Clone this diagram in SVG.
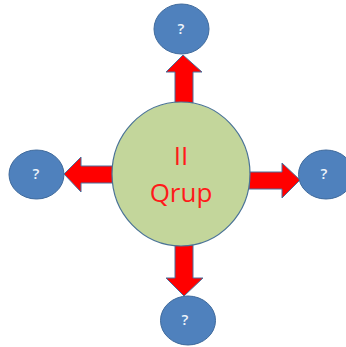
<svg xmlns="http://www.w3.org/2000/svg" width="346" height="347" viewBox="0 0 346 347">
<style>
.arrow{fill:#ff0000;stroke:#4a6f9c;stroke-width:1}
.small{fill:#4f81bd;stroke:#3f6a9c;stroke-width:1}
.big{fill:#c3d69b;stroke:#4a7396;stroke-width:1.2}
.q{font-family:"Open Sans","Liberation Sans",sans-serif;font-size:15px;font-weight:600;fill:#eef4fb;text-anchor:middle}
.t{font-family:"Open Sans","Liberation Sans",sans-serif;font-size:26px;fill:#ff1a1a;text-anchor:middle}
</style>
<rect width="346" height="347" fill="#ffffff"/>
<g id="connectors">
<polygon class="arrow" points="175,103 175,72 166,72 183,55 202,72 193,72 193,103"/>
<polygon class="arrow" points="175,245 175,278 166,278 184,296 203,278 193,278 193,245"/>
<polygon class="arrow" points="113,166 81,166 81,157 64,174 81,192 81,183 113,183"/>
<polygon class="arrow" points="249,172 282,172 282,163 300,180 282,198 282,189 249,189"/>
</g>
<g id="center"><ellipse class="big" cx="181" cy="174" rx="69" ry="72"/>
<text class="t" x="181" y="165">II</text><text class="t" x="181" y="202">Qrup</text></g>
<g id="node-top"><ellipse class="small" cx="181.500" cy="29" rx="27.500" ry="25"/><text class="q" x="181" y="34">?</text></g>
<g id="node-left"><ellipse class="small" cx="36.500" cy="174.500" rx="27.500" ry="24.500"/><text class="q" x="36" y="179">?</text></g>
<g id="node-right"><ellipse class="small" cx="326" cy="174.500" rx="27.500" ry="24.500"/><text class="q" x="324" y="179">?</text></g>
<g id="node-bottom"><ellipse class="small" cx="188" cy="320.500" rx="27.500" ry="24.500"/><text class="q" x="185" y="325">?</text></g>
</svg>
